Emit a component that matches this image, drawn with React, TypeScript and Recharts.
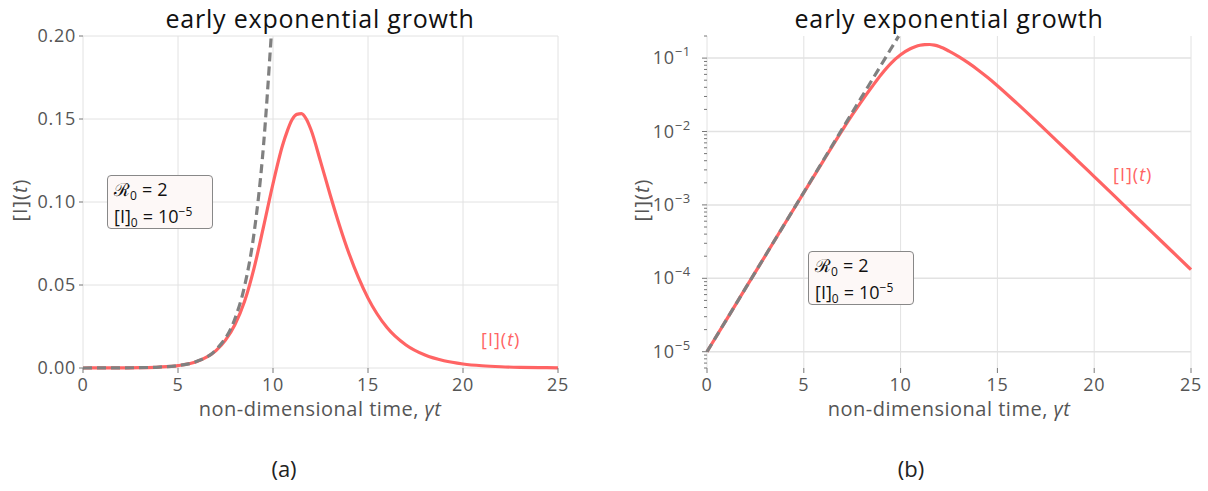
import React from 'react';
import {
  LineChart,
  Line,
  XAxis,
  YAxis,
  CartesianGrid,
  ReferenceLine,
} from 'recharts';

// SIR infected fraction
const sirTimes = [0, 1, 2, 3, 4, 5, 6, 7, 7.5, 8, 8.5, 9, 9.5, 10, 10.5, 10.75, 11, 11.25, 11.5, 11.75, 12, 12.5, 13, 13.5, 14, 14.5, 15, 16, 17, 18, 19, 20, 21, 22, 23, 24, 25];
const sirValues = [1.0e-5, 2.72e-5, 7.39e-5, 2.01e-4, 5.45e-4, 1.47e-3, 3.95e-3, 1.05e-2, 1.68e-2, 2.62e-2, 4.0e-2, 6.0e-2, 8.5e-2, 0.111, 0.134, 0.1427, 0.1495, 0.1528, 0.1532, 0.15, 0.1435, 0.1245, 0.1047, 0.0859, 0.069, 0.0544, 0.0421, 0.02434, 0.01382, 0.00777, 0.00435, 0.00243, 0.001357, 7.57e-4, 4.22e-4, 2.355e-4, 1.313e-4];

// early exponential growth (dashed), ends where it leaves the top of the plot
const expTimes = [0, 1, 2, 3, 4, 5, 6, 7, 8, 8.5, 9, 9.5, 9.9];
const expValues = [1e-5, 2.72e-5, 7.39e-5, 2.01e-4, 5.46e-4, 1.48e-3, 4.03e-3, 1.1e-2, 2.98e-2, 4.91e-2, 8.1e-2, 0.134, 0.199];

const xTicks = [0, 5, 10, 15, 20, 25];
const linTicks = [0, 0.05, 0.1, 0.15, 0.2];
const logMajor = [1e-5, 1e-4, 1e-3, 1e-2, 1e-1];
const logTicks = [
  6e-6, 7e-6, 8e-6, 9e-6,
  1e-5, 2e-5, 3e-5, 4e-5, 5e-5, 6e-5, 7e-5, 8e-5, 9e-5,
  1e-4, 2e-4, 3e-4, 4e-4, 5e-4, 6e-4, 7e-4, 8e-4, 9e-4,
  1e-3, 2e-3, 3e-3, 4e-3, 5e-3, 6e-3, 7e-3, 8e-3, 9e-3,
  1e-2, 2e-2, 3e-2, 4e-2, 5e-2, 6e-2, 7e-2, 8e-2, 9e-2,
  1e-1, 2e-1,
];

const sirData = sirTimes.map((t, i) => ({ t, v: sirValues[i] }));
const expData = expTimes.map((t, i) => ({ t, v: expValues[i] }));

const RED = '#ff6464';
const GREY = '#808080';
const GRID = '#e2e2e2';
const TICK = '#555';
const tickStyle = { fill: TICK, fontSize: 18, letterSpacing: 0.7 };

const LogTick = (props: any) => {
  const { x, y, payload } = props;
  const v = payload.value;
  const e = Math.round(Math.log10(v));
  const major = Math.abs(v - Math.pow(10, e)) / v < 1e-6;
  return (
    <g>
      <line x1={x - (major ? 5 : 3)} x2={x} y1={y} y2={y} stroke="#777" strokeWidth={1} />
      {major && (
        <text x={x - 16} y={y} textAnchor="end" fill={TICK} fontSize={18} letterSpacing={0.7}>
          <tspan dy={6}>10</tspan>
          <tspan dy={-8} fontSize={13}>{'\u2212' + Math.abs(e)}</tspan>
        </text>
      )}
    </g>
  );
};

const abs = (s: React.CSSProperties): React.CSSProperties => ({ position: 'absolute', ...s });
const sub: React.CSSProperties = { fontSize: 12, position: 'relative', top: 4 };
const sup: React.CSSProperties = { fontSize: 12, position: 'relative', top: -7 };

const Title = ({ cx }: { cx: number }) => (
  <div style={abs({ left: cx - 200, width: 400, top: 3, textAlign: 'center', fontSize: 25, letterSpacing: 0.8, color: '#111', lineHeight: '30px' })}>
    early exponential growth
  </div>
);

const XLabel = ({ cx }: { cx: number }) => (
  <div style={abs({ left: cx - 200, width: 400, top: 396, textAlign: 'center', fontSize: 20, letterSpacing: 0.5, color: '#555', lineHeight: '26px' })}>
    non-dimensional time, <i>γt</i>
  </div>
);

const YLabel = ({ cx }: { cx: number }) => (
  <div style={abs({ left: cx - 40, width: 80, top: 187, textAlign: 'center', fontSize: 20, letterSpacing: 1, color: '#555', lineHeight: '26px', transform: 'rotate(-90deg)' })}>
    [I](<i>t</i>)
  </div>
);

const ParamBox = ({ left, top }: { left: number; top: number }) => (
  <div style={abs({ left, top, width: 106, height: 54, boxSizing: 'border-box', border: '1px solid #888', borderRadius: 4, background: '#fdf8f7', padding: '1px 0 0 6px', fontSize: 18, color: '#111', lineHeight: '25px', whiteSpace: 'nowrap' })}>
    <div>ℛ<span style={sub}>0</span><span style={{ margin: '0 5px' }}>=</span>2</div>
    <div>[I]<span style={sub}>0</span><span style={{ margin: '0 5px' }}>=</span>10<span style={sup}>−5</span></div>
  </div>
);

const CurveLabel = ({ left, top }: { left: number; top: number }) => (
  <div style={abs({ left, top, fontSize: 18, letterSpacing: 1, color: RED, lineHeight: '22px' })}>
    [I](<i>t</i>)
  </div>
);

export default function App() {
  return (
    <div style={abs({ left: 0, top: 0, width: 1208, height: 491, background: '#fff', fontFamily: "'Open Sans', sans-serif" })}>
      <div style={abs({ left: 0, top: 0 })}>
        <LineChart width={600} height={491} margin={{ top: 36, right: 42, bottom: 93, left: 0 }}>
          <CartesianGrid stroke={GRID} />
          <XAxis
            dataKey="t"
            type="number"
            domain={[0, 25]}
            ticks={xTicks}
            interval={0}
            height={30}
            axisLine={false}
            tickSize={5}
            tickMargin={5}
            tickLine={{ stroke: '#777' }}
            tick={tickStyle}
          />
          <YAxis
            type="number"
            domain={[0, 0.2]}
            ticks={linTicks}
            interval={0}
            width={83}
            axisLine={false}
            tickSize={4}
            tickMargin={3}
            tickLine={{ stroke: '#777' }}
            tick={tickStyle}
            tickFormatter={(v: number) => v.toFixed(2)}
          />
          <Line data={sirData} dataKey="v" type="monotone" stroke={RED} strokeWidth={3.2} dot={false} isAnimationActive={false} />
          <Line data={expData} dataKey="v" type="monotone" stroke={GREY} strokeWidth={3.2} strokeDasharray="9 5" dot={false} isAnimationActive={false} />
        </LineChart>
      </div>

      <div style={abs({ left: 600, top: 0 })}>
        <LineChart width={608} height={491} margin={{ top: 36, right: 17, bottom: 93, left: 0 }}>
          <CartesianGrid stroke={GRID} horizontal={false} />
          {logMajor.map((m) => (
            <ReferenceLine key={m} y={m} stroke={GRID} strokeWidth={1.5} />
          ))}
          <XAxis
            dataKey="t"
            type="number"
            domain={[0, 25]}
            ticks={xTicks}
            interval={0}
            height={30}
            axisLine={false}
            tickSize={5}
            tickMargin={5}
            tickLine={{ stroke: '#777' }}
            tick={tickStyle}
          />
          <YAxis
            type="number"
            scale="log"
            domain={[6e-6, 0.2]}
            ticks={logTicks}
            interval={0}
            width={107}
            axisLine={false}
            tickLine={false}
            tickSize={0}
            tickMargin={0}
            tick={(p: any) => <LogTick {...p} />}
          />
          <Line data={sirData} dataKey="v" type="monotone" stroke={RED} strokeWidth={3.2} dot={false} isAnimationActive={false} />
          <Line data={expData} dataKey="v" type="monotone" stroke={GREY} strokeWidth={3.2} strokeDasharray="9 5" dot={false} isAnimationActive={false} />
        </LineChart>
      </div>

      <Title cx={320} />
      <Title cx={949} />
      <XLabel cx={320} />
      <XLabel cx={949} />
      <YLabel cx={20} />
      <YLabel cx={642} />
      <ParamBox left={107} top={175} />
      <ParamBox left={808} top={251} />
      <CurveLabel left={481} top={328} />
      <CurveLabel left={1113} top={163} />

      <div style={abs({ left: 261, width: 46, top: 453, textAlign: 'center', fontSize: 22, color: '#222', lineHeight: '30px' })}>(a)</div>
      <div style={abs({ left: 888, width: 46, top: 453, textAlign: 'center', fontSize: 22, color: '#222', lineHeight: '30px' })}>(b)</div>
    </div>
  );
}
